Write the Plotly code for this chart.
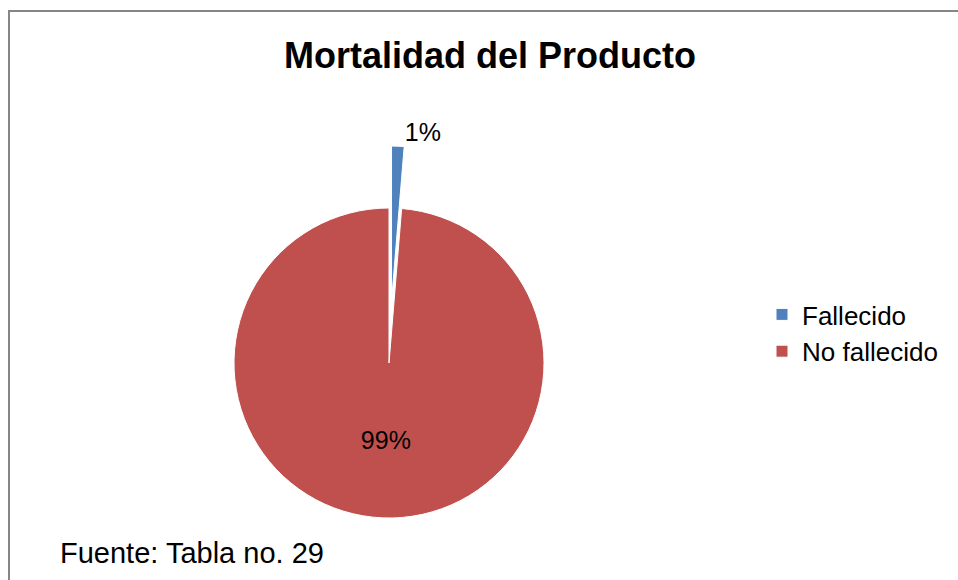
import plotly.graph_objects as go

labels = ["Fallecido", "No fallecido"]
values = [1.3, 98.7]
colors = ["#4F81BD", "#C0504D"]
title_text = "Mortalidad del Producto"
source_text = "Fuente: Tabla no. 29"

W, H = 958, 580
cx, cy = 389, 363
box = 2 * (H - cy)
radius = 155
pull_amt = box / 2 / radius - 1

fig = go.Figure()
fig.add_trace(go.Pie(
    labels=labels,
    values=values,
    sort=False,
    direction="clockwise",
    rotation=0,
    pull=[pull_amt, 0],
    marker=dict(colors=colors, line=dict(color="white", width=1)),
    texttemplate="%{percent:.0%}",
    textposition=["outside", "inside"],
    insidetextorientation="horizontal",
    textfont=dict(family="Liberation Sans, Arial", size=25, color="black"),
    domain=dict(x=[(cx - box / 2) / W, (cx + box / 2) / W],
                y=[max(0, 1 - (cy + box / 2) / H), min(1, 1 - (cy - box / 2) / H)]),
    hoverinfo="label+percent",
))

fig.update_layout(
    width=W, height=H,
    margin=dict(l=0, r=0, t=0, b=0, autoexpand=False),
    paper_bgcolor="white",
    font=dict(family="Liberation Sans, Arial", color="black"),
    title=dict(text="<b>" + title_text + "</b>", x=490 / W, xanchor="center",
               y=1 - 55 / H, yanchor="middle",
               font=dict(size=36, family="Liberation Sans, Arial", color="black")),
    legend=dict(x=762 / W, xanchor="left", y=1 - 333 / H, yanchor="middle",
                font=dict(size=26), itemwidth=30, bgcolor="rgba(0,0,0,0)"),
    shapes=[dict(type="rect", xref="paper", yref="paper",
                 x0=9 / W, x1=1.02, y0=-0.02, y1=1 - 11 / H,
                 line=dict(color="#868686", width=2), fillcolor="rgba(0,0,0,0)")],
    annotations=[dict(text=source_text, xref="paper", yref="paper",
                      x=58 / W, xanchor="left", y=1 - 553 / H, yanchor="middle",
                      showarrow=False, font=dict(size=29))],
)

fig.write_html(
    "out.html",
    config={"displayModeBar": False},
    post_script="document.body.style.margin='0';document.body.style.overflow='hidden';",
)
